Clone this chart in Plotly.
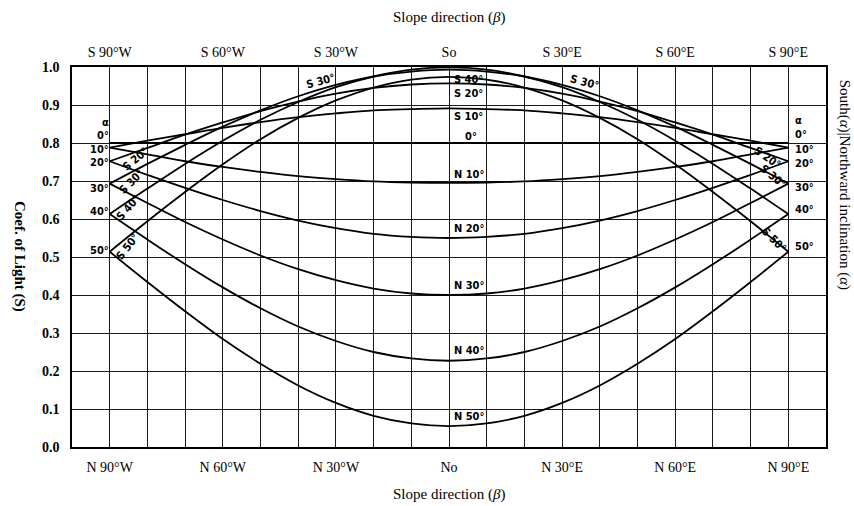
import plotly.graph_objects as go

# ---------------- data ----------------
beta = [-90, -80, -70, -60, -50, -40, -30, -20, -10, 0, 10, 20, 30, 40, 50, 60, 70, 80, 90]

incl_0 = [0.800, 0.800, 0.800, 0.800, 0.800, 0.800, 0.800, 0.800, 0.800, 0.800,
          0.800, 0.800, 0.800, 0.800, 0.800, 0.800, 0.800, 0.800, 0.800]

south_10 = [0.788, 0.806, 0.823, 0.840, 0.855, 0.868, 0.878, 0.886, 0.889, 0.891,
            0.889, 0.886, 0.878, 0.868, 0.855, 0.840, 0.823, 0.806, 0.788]
south_20 = [0.752, 0.787, 0.822, 0.854, 0.884, 0.909, 0.930, 0.945, 0.954, 0.957,
            0.954, 0.945, 0.930, 0.909, 0.884, 0.854, 0.822, 0.787, 0.752]
south_30 = [0.693, 0.745, 0.795, 0.843, 0.886, 0.923, 0.953, 0.975, 0.988, 0.993,
            0.988, 0.975, 0.953, 0.923, 0.886, 0.843, 0.795, 0.745, 0.693]
south_40 = [0.613, 0.680, 0.745, 0.806, 0.861, 0.908, 0.947, 0.975, 0.993, 0.999,
            0.993, 0.975, 0.947, 0.908, 0.861, 0.806, 0.745, 0.680, 0.613]
south_50 = [0.514, 0.594, 0.671, 0.744, 0.810, 0.866, 0.912, 0.946, 0.967, 0.974,
            0.967, 0.946, 0.912, 0.866, 0.810, 0.744, 0.671, 0.594, 0.514]

north_10 = [0.788, 0.770, 0.752, 0.737, 0.724, 0.713, 0.705, 0.699, 0.696, 0.695,
            0.696, 0.699, 0.705, 0.713, 0.724, 0.737, 0.752, 0.770, 0.788]
north_20 = [0.752, 0.716, 0.682, 0.650, 0.621, 0.596, 0.576, 0.561, 0.553, 0.550,
            0.553, 0.561, 0.576, 0.596, 0.621, 0.650, 0.682, 0.716, 0.752]
north_30 = [0.693, 0.642, 0.592, 0.546, 0.504, 0.468, 0.439, 0.417, 0.404, 0.400,
            0.404, 0.417, 0.439, 0.468, 0.504, 0.546, 0.592, 0.642, 0.693]
north_40 = [0.613, 0.546, 0.481, 0.420, 0.365, 0.317, 0.279, 0.250, 0.233, 0.227,
            0.233, 0.250, 0.279, 0.317, 0.365, 0.420, 0.481, 0.546, 0.613]
north_50 = [0.514, 0.434, 0.357, 0.284, 0.219, 0.162, 0.116, 0.082, 0.062, 0.055,
            0.062, 0.082, 0.116, 0.162, 0.219, 0.284, 0.357, 0.434, 0.514]

tick_vals = [-90, -60, -30, 0, 30, 60, 90]
bottom_ticks = ["N 90°W", "N 60°W", "N 30°W", "No", "N 30°E", "N 60°E", "N 90°E"]
top_ticks = ["S 90°W", "S 60°W", "S 30°W", "So", "S 30°E", "S 60°E", "S 90°E"]

alpha_labels = ["α", "0°", "10°", "20°", "30°", "40°", "50°"]
alpha_left_y = [0.854, 0.819, 0.783, 0.748, 0.680, 0.621, 0.517]
alpha_right_y = [0.858, 0.822, 0.784, 0.745, 0.683, 0.626, 0.527]

center_labels = ["S 40°", "S 20°", "S 10°", "0°", "N 10°", "N 20°", "N 30°", "N 40°", "N 50°"]
center_x = [0.8, 0.8, 0.8, 3.7, 0.8, 0.8, 0.8, 0.8, 0.8]
center_y = [0.966, 0.931, 0.869, 0.818, 0.718, 0.576, 0.426, 0.255, 0.080]

side_labels = ["S 30°", "S 30°", "S 20°", "S 30°", "S 40°", "S 50°", "S 20°", "S 30°", "S 50°"]
side_x = [-34.2, 36.0, -83.2, -84.1, -84.9, -85.4, 84.4, 85.9, 86.0]
side_y = [0.963, 0.960, 0.757, 0.698, 0.629, 0.526, 0.763, 0.711, 0.545]
side_angle = [-15, 15, -40, -45, -48, -52, 35, 40, 45]

# ---------------- figure ----------------
SERIF = "Liberation Serif, Times New Roman, serif"
NARROW = "DejaVu Sans Condensed, Liberation Sans Narrow, Arial Narrow, sans-serif"

fig = go.Figure()
series = [incl_0, south_10, south_20, south_30, south_40, south_50,
          north_10, north_20, north_30, north_40, north_50]
for s in series:
    fig.add_trace(go.Scatter(x=beta, y=s, mode="lines",
                             line=dict(color="black", width=1.8, shape="spline"),
                             hoverinfo="skip", showlegend=False))
# invisible trace to carry the top axis
fig.add_trace(go.Scatter(x=[-100, 100], y=[None, None], xaxis="x2", mode="lines",
                         showlegend=False, hoverinfo="skip"))

label_font = dict(family=NARROW, size=11, color="black", weight="bold")
ann = []
for t, y in zip(alpha_labels, alpha_left_y):
    ann.append(dict(x=-89.7, y=y, xref="x", yref="y", text=t, showarrow=False,
                    xanchor="right", yanchor="middle", font=label_font))
for t, y in zip(alpha_labels, alpha_right_y):
    ann.append(dict(x=91.3, y=y, xref="x", yref="y", text=t, showarrow=False,
                    xanchor="left", yanchor="middle", font=label_font))
for t, x, y in zip(center_labels, center_x, center_y):
    ann.append(dict(x=x, y=y, xref="x", yref="y", text=t, showarrow=False,
                    xanchor="left", yanchor="middle", font=label_font))
for t, x, y, a in zip(side_labels, side_x, side_y, side_angle):
    ann.append(dict(x=x, y=y, xref="x", yref="y", text=t, showarrow=False,
                    textangle=a, xanchor="center", yanchor="middle", font=label_font))

ann.append(dict(x=0.5, y=1.129, xref="paper", yref="paper", text="Slope direction (<i>β</i>)",
                showarrow=False, xanchor="center", yanchor="middle",
                font=dict(family=SERIF, size=15, color="black")))
ann.append(dict(x=0.5, y=-0.124, xref="paper", yref="paper", text="Slope direction (<i>β</i>)",
                showarrow=False, xanchor="center", yanchor="middle",
                font=dict(family=SERIF, size=15, color="black")))
ann.append(dict(x=-0.069, y=0.50, xref="paper", yref="paper", text="Coef. of Light (S)",
                showarrow=False, textangle=90, xanchor="center", yanchor="middle",
                font=dict(family=SERIF, size=15, color="black", weight="bold")))
ann.append(dict(x=1.024, y=0.69, xref="paper", yref="paper",
                text="South(<i>α</i>)|Northward inclination (<i>α</i>)",
                showarrow=False, textangle=90, xanchor="center", yanchor="middle",
                font=dict(family=SERIF, size=15, color="black")))

fig.update_layout(
    width=854, height=506, autosize=False,
    margin=dict(l=72, r=28, t=67, b=59),
    paper_bgcolor="white", plot_bgcolor="white",
    annotations=ann,
    xaxis=dict(range=[-100, 100], tickvals=tick_vals, ticktext=bottom_ticks,
               showgrid=True, gridcolor="#1a1a1a", gridwidth=1, automargin=False,
               minor=dict(dtick=10, tick0=0, showgrid=True, gridcolor="#1a1a1a", gridwidth=1),
               showline=True, linecolor="black", linewidth=1.5, mirror=True,
               ticks="", ticklabelstandoff=6, zeroline=False,
               tickfont=dict(family=SERIF, size=14, color="black")),
    xaxis2=dict(range=[-100, 100], overlaying="x", side="top", tickvals=tick_vals,
                ticktext=top_ticks, showgrid=False, ticks="", ticklabelstandoff=6,
                zeroline=False, showline=False, automargin=False,
                tickfont=dict(family=SERIF, size=14, color="black")),
    yaxis=dict(range=[0, 1], dtick=0.1, tickformat=".1f", automargin=False,
               showgrid=True, gridcolor="#1a1a1a", gridwidth=1,
               showline=True, linecolor="black", linewidth=1.5, mirror=True,
               ticks="", ticklabelstandoff=8, zeroline=False,
               tickfont=dict(family=SERIF, size=14, color="black", weight="bold")),
)

fig.write_html("out.html", config={"displayModeBar": False},
               post_script="document.body.style.margin='0';document.body.style.overflow='hidden';")
